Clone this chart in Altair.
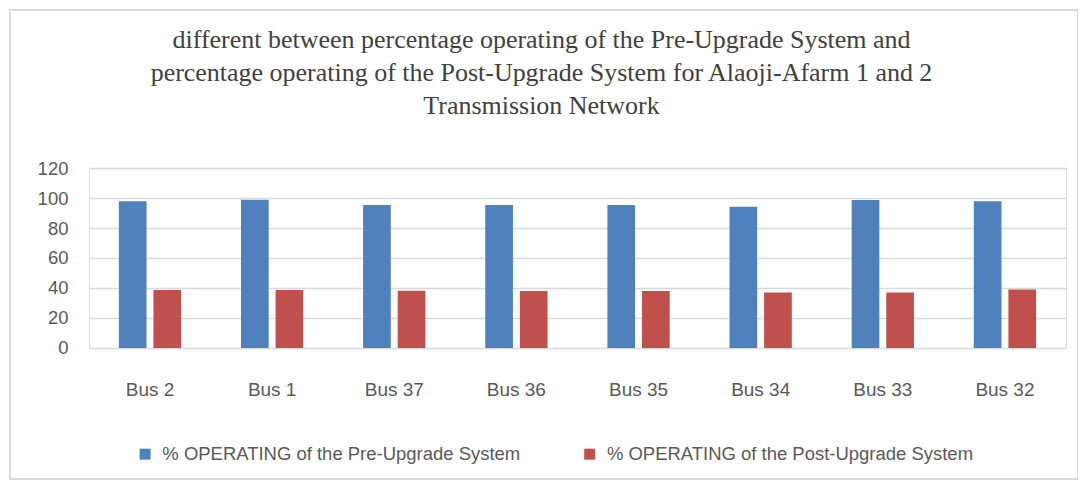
import altair as alt
import pandas as pd

buses = ["Bus 2", "Bus 1", "Bus 37", "Bus 36", "Bus 35", "Bus 34", "Bus 33", "Bus 32"]
pre_upgrade = [97.8, 98.9, 95.3, 95.3, 95.3, 94.2, 98.7, 97.8]
post_upgrade = [38.7, 38.7, 38.1, 37.9, 37.9, 37.0, 37.0, 39.0]
series_names = [
    "% OPERATING of the Pre-Upgrade System",
    "% OPERATING of the Post-Upgrade System",
]
series_colors = ["#4F81BD", "#C0504D"]
y_ticks = [0, 20, 40, 60, 80, 100, 120]
title_lines = [
    "different between percentage operating of the Pre-Upgrade System and",
    "percentage operating of the Post-Upgrade System for Alaoji-Afarm 1 and 2",
    "Transmission Network",
]

rows = []
for b, a, p in zip(buses, pre_upgrade, post_upgrade):
    rows.append({"bus": b, "series": series_names[0], "value": a})
    rows.append({"bus": b, "series": series_names[1], "value": p})
df = pd.DataFrame(rows)

W, H = 978, 180

bars = alt.Chart(df).mark_bar().encode(
    x=alt.X(
        "bus:N",
        sort=buses,
        title=None,
        scale=alt.Scale(paddingInner=0.49, paddingOuter=0.245),
        axis=alt.Axis(
            labelAngle=0,
            ticks=False,
            tickSize=0,
            domain=False,
            labelPadding=42,
            labelBaseline="middle",
            labelFont="Liberation Sans",
            labelFontSize=19,
            labelColor="#595959",
        ),
    ),
    xOffset=alt.XOffset(
        "series:N",
        sort=series_names,
        scale=alt.Scale(paddingInner=0.2, paddingOuter=0),
    ),
    y=alt.Y(
        "value:Q",
        title=None,
        scale=alt.Scale(domain=[0, 120], nice=False),
        axis=alt.Axis(
            values=y_ticks,
            domain=False,
            ticks=False,
            tickSize=0,
            labelPadding=21,
            labelFont="Liberation Sans",
            labelFontSize=18.5,
            labelColor="#595959",
            gridColor="#d9d9d9",
            gridWidth=1.5,
        ),
    ),
    color=alt.Color(
        "series:N",
        sort=series_names,
        scale=alt.Scale(domain=series_names, range=series_colors),
        legend=alt.Legend(
            title=None,
            orient="none",
            direction="horizontal",
            legendX=47,
            legendY=277,
            symbolType="square",
            symbolSize=121,
            symbolStrokeWidth=0,
            labelFont="Liberation Sans",
            labelFontSize=18.5,
            labelColor="#595959",
            labelLimit=600,
            labelOffset=8,
            columnPadding=60,
        ),
    ),
)

border = alt.Chart(df).mark_rect(
    fill=None, stroke="#d9d9d9", strokeWidth=1.5
).encode(
    x=alt.value(-79),
    x2=alt.value(990),
    y=alt.value(-158),
    y2=alt.value(311),
)

chart = alt.layer(border, bars).properties(
    width=W,
    height=H,
    padding={"left": 81, "top": 160, "right": 12, "bottom": 132},
    autosize=alt.AutoSizeParams(type="none"),
    title=alt.TitleParams(
        text=title_lines,
        anchor="middle",
        frame="group",
        font="Liberation Serif",
        fontSize=26,
        fontWeight="normal",
        color="#404040",
        lineHeight=33,
        offset=-110,
        dx=-36,
    ),
).configure_view(stroke=None).configure(background="white")

chart.save("out.html", embed_options={"renderer": "svg", "actions": False})
